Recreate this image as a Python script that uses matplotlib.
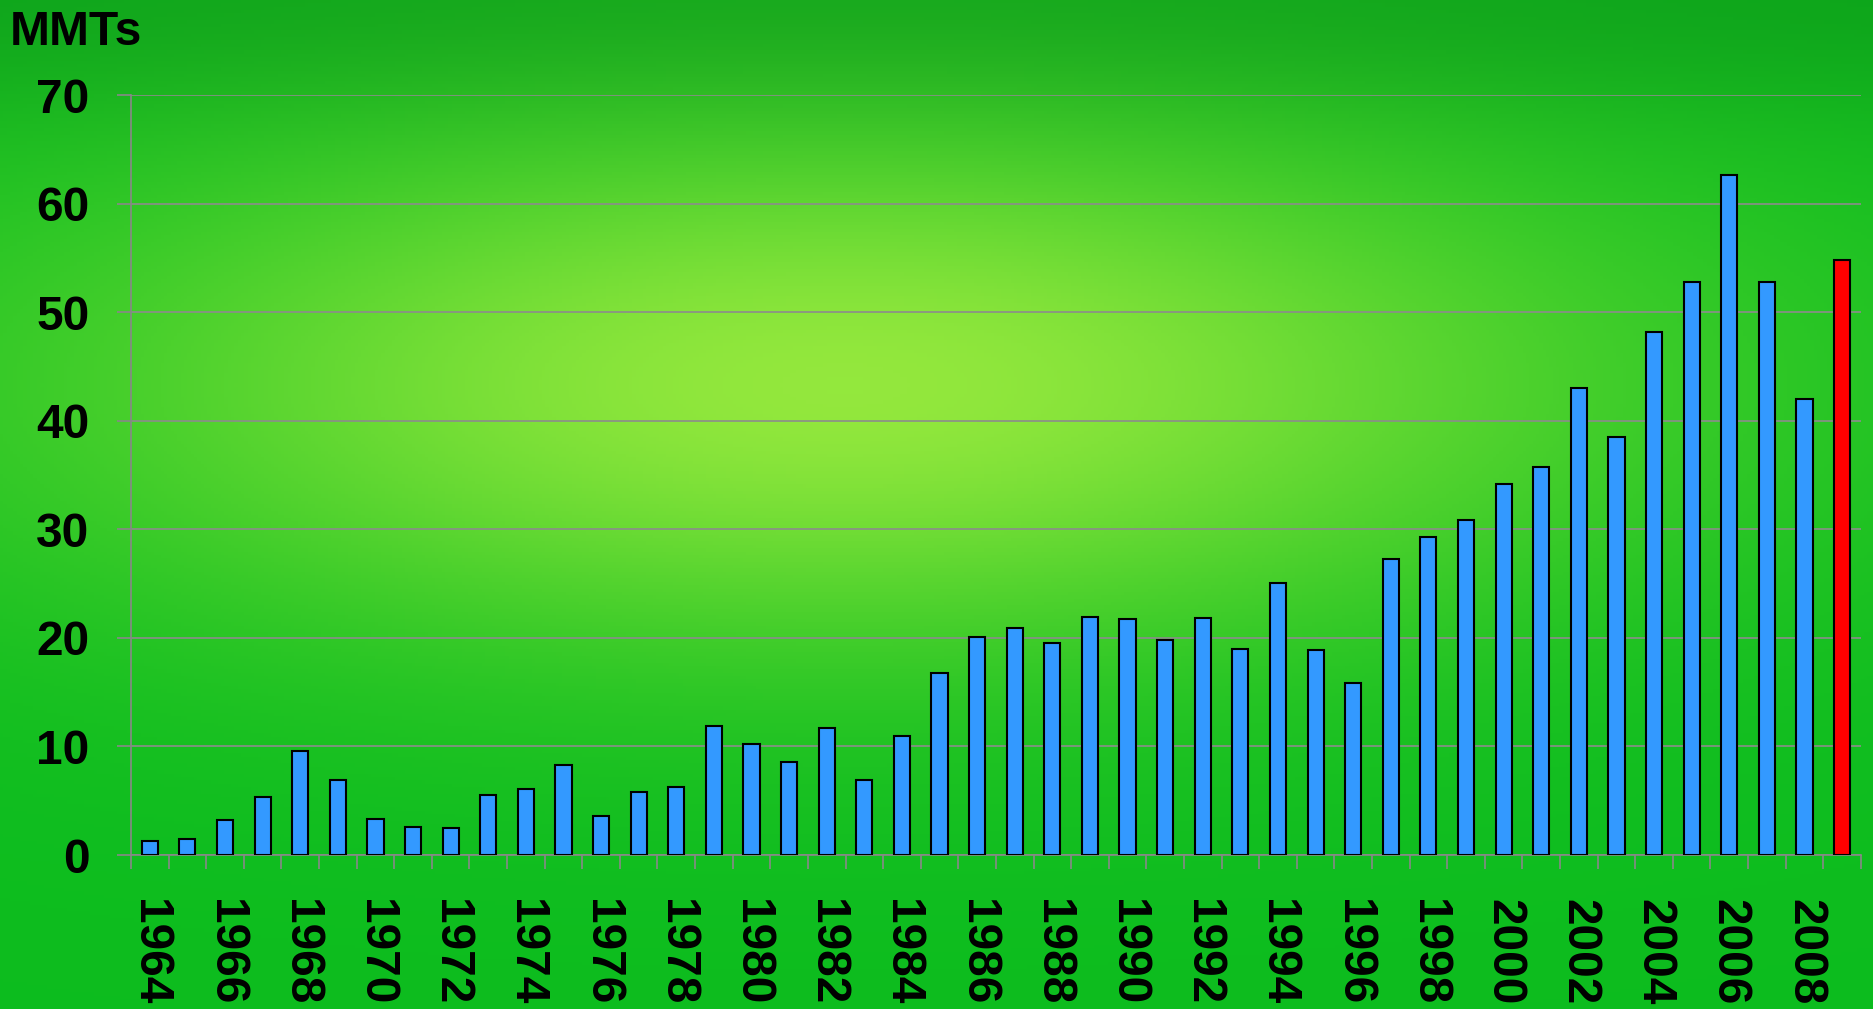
import matplotlib.pyplot as plt
import numpy as np

plt.rcParams['font.family'] = ['Liberation Sans', 'DejaVu Sans']
plt.rcParams['font.weight'] = 'bold'

years = list(range(1964, 2010))
values = [1.3, 1.5, 3.2, 5.3, 9.6, 6.9, 3.3, 2.6, 2.5, 5.5,
          6.1, 8.3, 3.6, 5.8, 6.3, 11.9, 10.2, 8.6, 11.7, 6.9,
          11.0, 16.8, 20.1, 20.9, 19.5, 21.9, 21.7, 19.8, 21.8, 19.0,
          25.1, 18.9, 15.8, 27.3, 29.3, 30.9, 34.2, 35.7, 43.0, 38.5,
          48.2, 52.8, 62.6, 52.8, 42.0, 54.8]
colors = ['#3399ff'] * (len(years) - 1) + ['#ff0000']
yticks = [0, 10, 20, 30, 40, 50, 60, 70]

fig = plt.figure(figsize=(18.74, 10.09), dpi=100)

# green background with a lighter glow in the middle
bg = fig.add_axes([0, 0, 1, 1], zorder=-10)
h, w = 300, 560
yy, xx = np.mgrid[0:h, 0:w]
xx = xx / w
yy = yy / h  # 0 = top
glow = np.exp(-(((xx - 0.45) / 0.42) ** 2 + ((yy - 0.38) / 0.26) ** 2))
top_dark = np.exp(-(yy / 0.12) ** 2)
dark = np.array([0.05, 0.74, 0.12])
light = np.array([0.58, 0.91, 0.24])
img = dark[None, None, :] * (1 - glow[..., None]) + light[None, None, :] * glow[..., None]
img = img * (1 - 0.12 * top_dark[..., None])
bg.imshow(np.clip(img, 0, 1), extent=[0, 1, 0, 1], aspect='auto')
bg.axis('off')

ax = fig.add_axes([0.0699, 0.1526, 0.9231, 0.7532])
ax.patch.set_alpha(0)
x = np.arange(len(years))
ax.bar(x, values, width=0.43, color=colors, edgecolor='black', linewidth=1.5, zorder=3)

ax.set_xlim(-0.5, len(years) - 0.5)
ax.set_ylim(0, 70)
ax.set_yticks(yticks)
ax.set_yticklabels([str(v) for v in yticks], fontsize=34.5, fontweight='bold')
ax.tick_params(axis='y', length=10, width=1.2, color='#888888', pad=20)
ax.yaxis.grid(True, color='#8c8c8c', linewidth=1.2)
ax.set_axisbelow(True)

# boundary ticks (no labels) and year labels every two bars
ax.set_xticks(np.arange(-0.5, len(years), 1.0))
ax.set_xticklabels([])
ax.tick_params(axis='x', which='major', length=10, width=1.2, color='#888888')
ax.set_xticks(x[::2], minor=True)
ax.set_xticklabels([str(y) for y in years[::2]], minor=True, rotation=-90,
                   fontsize=34.5, fontweight='bold')
ax.tick_params(axis='x', which='minor', length=0, pad=32)

for s in ['top', 'right']:
    ax.spines[s].set_visible(False)
for s in ['left', 'bottom']:
    ax.spines[s].set_color('#888888')
    ax.spines[s].set_linewidth(1.2)

fig.text(0.005, 0.99, 'MMTs', fontsize=34.5, fontweight='bold', va='top', ha='left')

fig.savefig('out.png', dpi=100)
